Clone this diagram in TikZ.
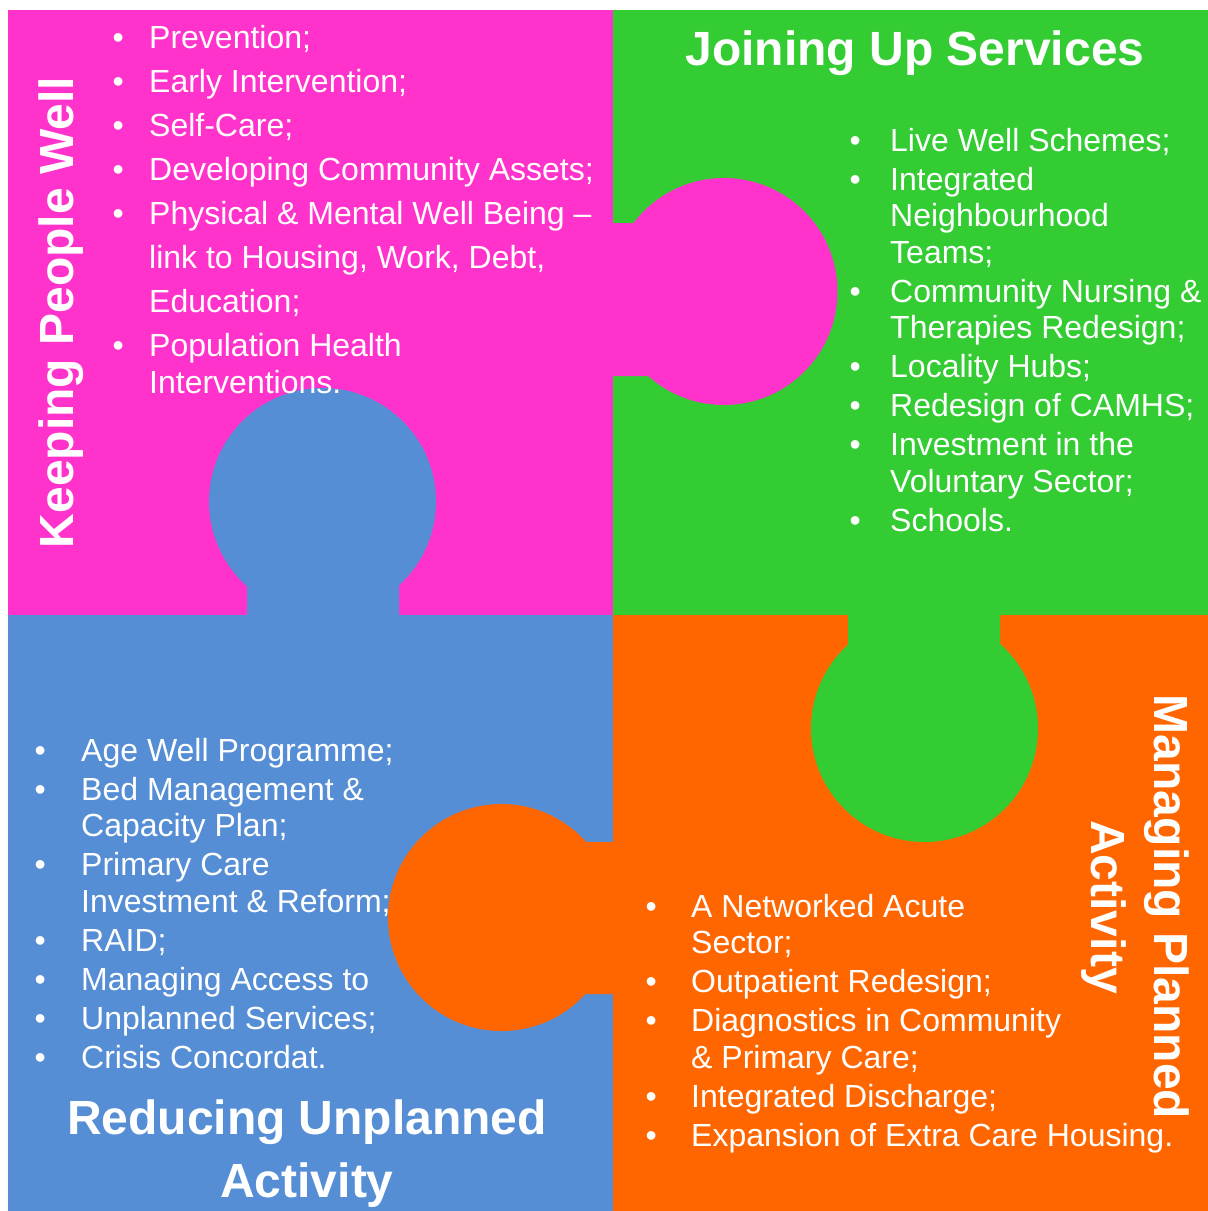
\documentclass[tikz,border=0pt]{standalone}
\usepackage{fontspec}
\setmainfont{Liberation Sans}

\definecolor{keepwell}{HTML}{FF33CC}
\definecolor{joinup}{HTML}{33CC33}
\definecolor{unplanned}{HTML}{558ED5}
\definecolor{planned}{HTML}{FF6600}

% bullet hung to the left of the text edge
\newcommand\bl{\llap{\textbullet\hspace{\bgap}}}

\begin{document}
\begin{tikzpicture}[x=1pt,y=-1pt]

	\tikzset{list/.style={anchor=north west, inner sep=0pt, align=left,
			text=white, font=\fontsize{32}{36.5}\selectfont,
			execute at begin node={\def\bgap{#1}}},
		title/.style={inner sep=0pt, text=white,
			font=\fontsize{48}{63}\selectfont\bfseries}}

	\useasboundingbox (0,0) rectangle (1208,1211);

	% four pieces
	\fill[keepwell] (8,10) rectangle (613,615);
	\fill[joinup] (613,10) rectangle (1208,615);
	\fill[unplanned] (8,615) rectangle (613,1211);
	\fill[planned] (613,615) rectangle (1208,1211);

	% knobs
	\fill[keepwell] (600,223) rectangle (660,376) (724,291.5) circle[radius=113.5pt];
	\fill[unplanned] (247,560) rectangle (399,620) (322.5,501.5) circle[radius=113.5pt];
	\fill[joinup] (848,610) rectangle (1000,660) (924.5,728.5) circle[radius=113.5pt];
	\fill[planned] (560,842) rectangle (620,994) (501.5,917.5) circle[radius=113.5pt];

	% headings
	\node[title, anchor=base] (jus) at (915,65) {Joining Up Services};
	\node[title, anchor=base, rotate=90] (kpw) at (73,312.5) {Keeping People Well};
	\node[title, anchor=base, align=center] (rua) at (307,1197) {Reducing Unplanned\\Activity};
	\node[title, anchor=base, align=center, rotate=-90] (mpa) at (1091,907) {Managing Planned\\Activity};

	% lists
	\node[list=25.4pt, font=\fontsize{32}{44}\selectfont] (kpw-l) at (149,25) {%
		\bl Prevention;\\
		\bl Early Intervention;\\
		\bl Self-Care;\\
		\bl Developing Community Assets;\\
		\bl Physical \& Mental Well Being –\\
		link to Housing, Work, Debt,\\
		Education;\\
		\bl Population Health\\[-7pt]
		Interventions.};

	\node[list=29.4pt] (jus-l) at (890,128) {%
		\bl Live Well Schemes;\\[2.5pt]
		\bl Integrated\\
		Neighbourhood\\
		Teams;\\[2.5pt]
		\bl Community Nursing \&\\
		Therapies Redesign;\\[2.5pt]
		\bl Locality Hubs;\\[2.5pt]
		\bl Redesign of CAMHS;\\[2.5pt]
		\bl Investment in the\\
		Voluntary Sector;\\[2.5pt]
		\bl Schools.};

	\node[list=35.4pt] (rua-l) at (81,738) {%
		\bl Age Well Programme;\\[2.5pt]
		\bl Bed Management \&\\
		Capacity Plan;\\[2.5pt]
		\bl Primary Care\\
		Investment \& Reform;\\[2.5pt]
		\bl RAID;\\[2.5pt]
		\bl Managing Access to\\[2.5pt]
		\bl Unplanned Services;\\[2.5pt]
		\bl Crisis Concordat.};

	\node[list=34.4pt] (mpa-l) at (691,894) {%
		\bl A Networked Acute\\
		Sector;\\[2.5pt]
		\bl Outpatient Redesign;\\[2.5pt]
		\bl Diagnostics in Community\\
		\& Primary Care;\\[2.5pt]
		\bl Integrated Discharge;\\[2.5pt]
		\bl Expansion of Extra Care Housing.};

\end{tikzpicture}
\end{document}
